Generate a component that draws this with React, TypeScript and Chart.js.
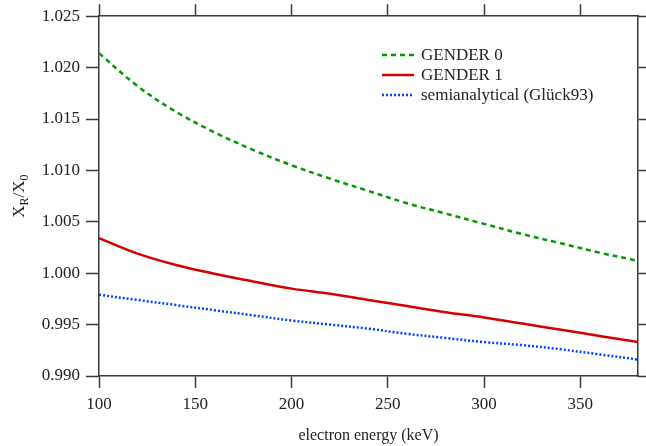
import React, { useEffect, useRef } from "react";
import { Chart, registerables } from "chart.js";

Chart.register(...registerables);

const energies = [100, 120, 140, 160, 180, 200, 220, 240, 260, 280, 300, 320, 340, 360, 380];
const gender0 = [1.0214, 1.0182, 1.0157, 1.0137, 1.0120, 1.0105, 1.0092, 1.0080, 1.0068, 1.0058, 1.0048, 1.0038, 1.0029, 1.0020, 1.0012];
const gender1 = [1.0034, 1.0019, 1.0008, 0.99995, 0.9992, 0.9985, 0.9980, 0.9974, 0.9968, 0.9962, 0.9957, 0.9951, 0.9945, 0.9939, 0.9933];
const semiAnalytical = [0.9979, 0.9974, 0.9969, 0.9964, 0.9959, 0.9954, 0.9950, 0.9946, 0.9941, 0.9937, 0.9933, 0.9930, 0.9926, 0.9921, 0.9916];
const seriesLabels = ["GENDER 0", "GENDER 1", "semianalytical (Glück93)"];
const xTicks = [100, 150, 200, 250, 300, 350];
const yTicks = [0.99, 0.995, 1.0, 1.005, 1.01, 1.015, 1.02, 1.025];
const xTitle = "electron energy (keV)";

const FONT = "'Liberation Serif', 'Times New Roman', serif";
const GREEN = "#009a00";
const RED = "#d40000";
const BLUE = "#0044ff";
const AXIS = "#3a3a3a";

const toPoints = (ys: number[]) => energies.map((x, i) => ({ x, y: ys[i] }));

const textPlugin = {
  id: "customText",
  afterDraw(chart: any) {
    const ctx = chart.ctx as CanvasRenderingContext2D;
    const area = chart.chartArea;
    ctx.save();
    ctx.fillStyle = "#222";
    ctx.font = `16px ${FONT}`;
    ctx.textAlign = "center";
    ctx.textBaseline = "middle";
    ctx.fillText(xTitle, (area.left + area.right) / 2, 436);

    ctx.save();
    ctx.translate(18, (area.top + area.bottom) / 2);
    ctx.rotate(-Math.PI / 2);
    const big = `17px ${FONT}`;
    const small = `12px ${FONT}`;
    const parts: [string, string, number][] = [
      ["X", big, 0],
      ["R", small, 4],
      ["/X", big, 0],
      ["0", small, 4],
    ];
    let total = 0;
    for (const [t, f] of parts) {
      ctx.font = f;
      total += ctx.measureText(t).width;
    }
    let px = -total / 2;
    ctx.textAlign = "left";
    ctx.textBaseline = "alphabetic";
    for (const [t, f, dy] of parts) {
      ctx.font = f;
      ctx.fillText(t, px, 6 + dy);
      px += ctx.measureText(t).width;
    }
    ctx.restore();

    const styles = [
      { color: GREEN, dash: [5, 4] },
      { color: RED, dash: [] as number[] },
      { color: BLUE, dash: [2, 2] },
    ];
    const ys = [55, 75, 95];
    ctx.font = `17px ${FONT}`;
    ctx.textAlign = "left";
    ctx.textBaseline = "middle";
    styles.forEach((s, i) => {
      ctx.beginPath();
      ctx.setLineDash(s.dash);
      ctx.strokeStyle = s.color;
      ctx.lineWidth = 2.5;
      ctx.moveTo(382, ys[i]);
      ctx.lineTo(414, ys[i]);
      ctx.stroke();
      ctx.setLineDash([]);
      ctx.fillStyle = "#222";
      ctx.fillText(seriesLabels[i], 421, ys[i] + 1);
    });
    ctx.restore();
  },
};

export default function App() {
  const ref = useRef<HTMLCanvasElement | null>(null);
  useEffect(() => {
    if (!ref.current) return;
    const tickFont = { family: FONT, size: 17 };
    const mk = (vals: number[]) => vals.map((v) => ({ value: v }));
    const chart = new Chart(ref.current, {
      type: "line",
      data: {
        datasets: [
          {
            label: seriesLabels[0],
            data: toPoints(gender0),
            borderColor: GREEN,
            borderWidth: 2.5,
            borderDash: [5, 4],
            pointRadius: 0,
            tension: 0.35,
            fill: false,
          },
          {
            label: seriesLabels[1],
            data: toPoints(gender1),
            borderColor: RED,
            borderWidth: 2.5,
            pointRadius: 0,
            tension: 0.35,
            fill: false,
          },
          {
            label: seriesLabels[2],
            data: toPoints(semiAnalytical),
            borderColor: BLUE,
            borderWidth: 2.5,
            borderDash: [2, 2],
            pointRadius: 0,
            tension: 0.35,
            fill: false,
          },
        ],
      },
      options: {
        animation: false,
        responsive: false,
        layout: { padding: 0 },
        plugins: { legend: { display: false }, tooltip: { enabled: false } },
        scales: {
          x: {
            type: "linear",
            position: "bottom",
            min: 100,
            max: 380,
            afterFit: (s: any) => { s.height = 70; },
            afterBuildTicks: (s: any) => { s.ticks = mk(xTicks); },
            ticks: { font: tickFont, color: "#222", padding: 6, maxRotation: 0 },
            grid: { drawOnChartArea: false, drawTicks: true, tickLength: 12, tickColor: AXIS, tickWidth: 1.5 },
            border: { display: true, color: AXIS, width: 1.5 },
          },
          x2: {
            type: "linear",
            position: "top",
            min: 100,
            max: 380,
            afterFit: (s: any) => { s.height = 16; },
            afterBuildTicks: (s: any) => { s.ticks = mk(xTicks); },
            ticks: { display: false },
            grid: { drawOnChartArea: false, drawTicks: true, tickLength: 12, tickColor: AXIS, tickWidth: 1.5 },
            border: { display: true, color: AXIS, width: 1.5 },
          },
          y: {
            type: "linear",
            position: "left",
            min: 0.99,
            max: 1.025,
            afterFit: (s: any) => { s.width = 99; },
            afterBuildTicks: (s: any) => { s.ticks = mk(yTicks); },
            ticks: {
              font: tickFont,
              color: "#222",
              padding: 6,
              callback: (v: any) => Number(v).toFixed(3),
            },
            grid: { drawOnChartArea: false, drawTicks: true, tickLength: 13, tickColor: AXIS, tickWidth: 1.5 },
            border: { display: true, color: AXIS, width: 1.5 },
          },
          y2: {
            type: "linear",
            position: "right",
            min: 0.99,
            max: 1.025,
            afterFit: (s: any) => { s.width = 8; },
            afterBuildTicks: (s: any) => { s.ticks = mk(yTicks); },
            ticks: { display: false },
            grid: { drawOnChartArea: false, drawTicks: true, tickLength: 8, tickColor: AXIS, tickWidth: 1.5 },
            border: { display: true, color: AXIS, width: 1.5 },
          },
        },
      } as any,
      plugins: [textPlugin],
    });
    return () => chart.destroy();
  }, []);

  return (
    <div style={{ position: "fixed", left: 0, top: 0, width: 646, height: 446, background: "#fff" }}>
      <canvas ref={ref} width={646} height={446} style={{ width: 646, height: 446, display: "block" }} />
    </div>
  );
}
